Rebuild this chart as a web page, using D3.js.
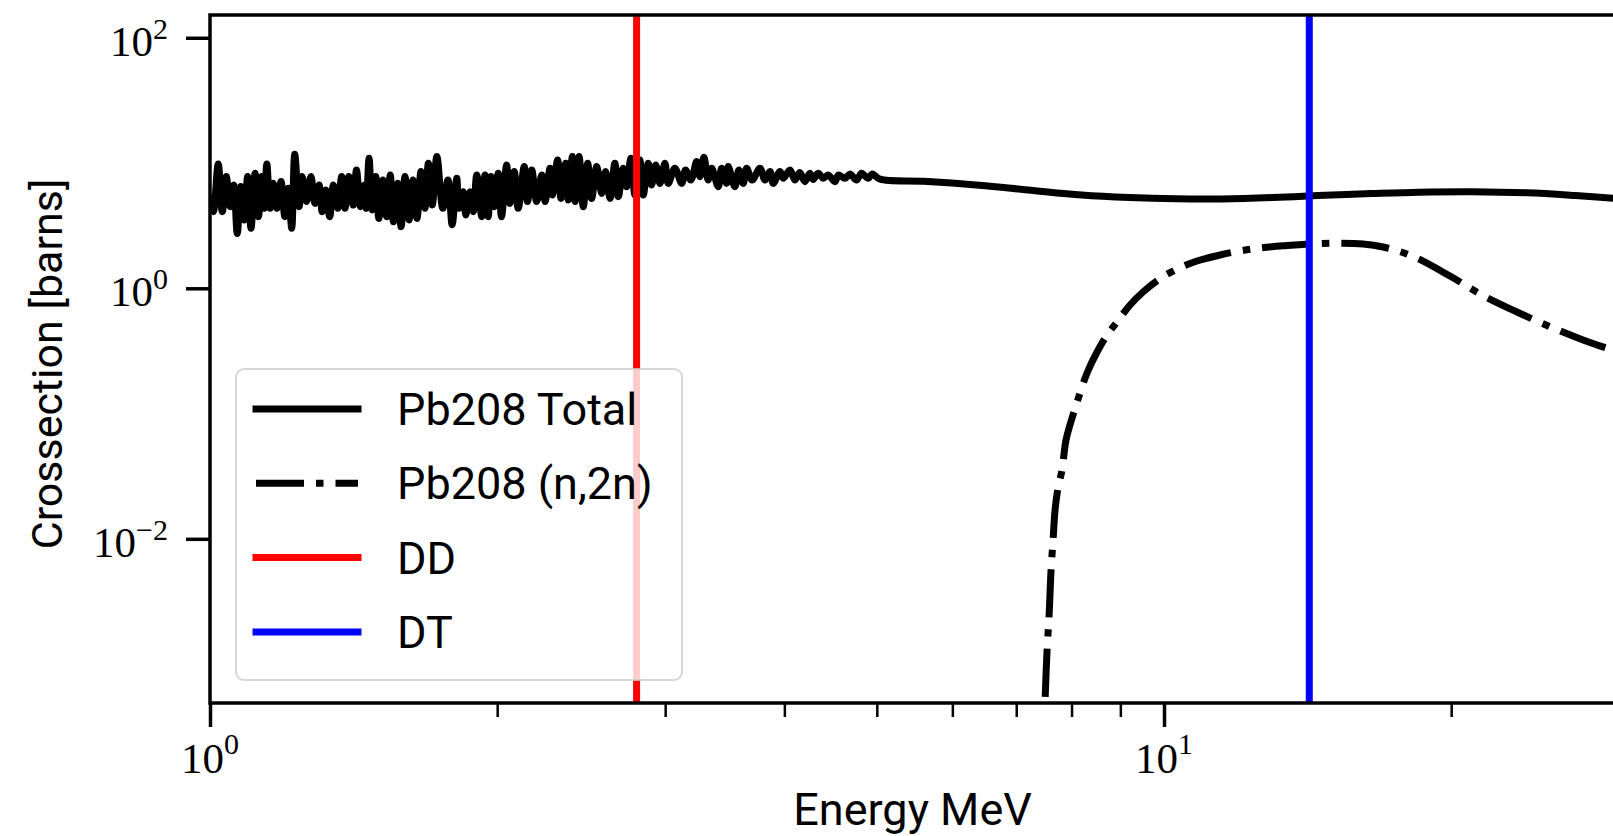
<!DOCTYPE html>
<html><head><meta charset="utf-8">
<script src="https://cdn.jsdelivr.net/npm/d3@7"></script>
<style>html,body{margin:0;padding:0;background:#fff;overflow:hidden}</style>
</head><body>
<svg id="chart" width="1613" height="836"></svg>
<script>
// ---------------- data ----------------
const totalEnergy = [
 1.000,1.008,1.020,1.030,1.040,1.050,1.059,1.068,1.077,1.086,
 1.095,1.104,1.115,1.124,1.133,1.140,1.147,1.156,1.165,1.175,
 1.187,1.198,1.208,1.218,1.227,1.240,1.249,1.262,1.276,1.288,
 1.301,1.311,1.322,1.335,1.347,1.361,1.374,1.385,1.398,1.413,
 1.424,1.438,1.451,1.458,1.468,1.479,1.492,1.503,1.518,1.532,
 1.545,1.557,1.573,1.586,1.601,1.617,1.632,1.648,1.664,1.680,
 1.694,1.710,1.729,1.754,1.776,1.794,1.814,1.824,1.843,1.854,
 1.873,1.888,1.904,1.927,1.942,1.957,1.970,1.986,2.005,2.021,
 2.046,2.062,2.084,2.104,2.135,2.152,2.174,2.200,2.227,2.245,
 2.272,2.285,2.314,2.333,2.360,2.375,2.398,2.414,2.437,2.462,
 2.488,2.512,2.543,2.574,2.598,2.626,2.657,2.679,2.711,2.733,
 2.762,2.789,2.822,2.845,2.880,2.903,2.932,2.963,2.998,3.022,
 3.071,3.122,3.151,3.192,3.237,3.262,3.294,3.328,3.356,3.410,
 3.438,3.479,3.493,3.550,3.584,3.622,3.652,3.701,3.771,3.817,
 3.864,3.894,3.958,3.990,4.054,4.103,4.152,4.203,4.254,4.288,
 4.340,4.393,4.446,4.519,4.556,4.630,4.686,4.762,4.819,4.897,4.945,
 5.04,5.6,6.4,7.2,8.2,9.2,10.3,11.5,13.0,14.5,16.5,18.5,21.0,24.0,27.0,30.0
];
const totalXS = [
 5.23,4.09,9.83,4.09,7.80,4.48,6.68,2.74,6.49,3.51,
 7.80,3.01,8.30,3.73,7.80,4.35,9.83,4.35,6.89,4.35,
 7.11,3.73,6.29,3.01,11.75,4.48,7.80,4.92,7.80,4.76,
 6.68,4.09,6.09,3.73,6.68,4.35,7.80,4.35,7.80,4.62,
 8.80,4.48,6.68,4.35,10.91,4.22,7.80,3.61,7.32,3.73,
 8.03,3.40,6.89,3.10,7.80,3.51,7.32,3.61,8.55,4.35,
 9.95,4.62,11.26,4.35,7.32,3.22,7.55,4.35,5.91,3.85,
 5.91,4.09,8.03,3.73,8.03,3.73,7.80,4.48,8.30,3.73,
 9.65,4.76,8.55,4.35,9.37,4.92,8.80,4.92,8.03,4.92,
 9.08,5.56,10.58,5.22,9.95,5.07,11.26,4.92,11.26,4.48,
 9.95,5.22,9.37,5.72,8.55,5.22,9.95,5.39,9.08,6.48,
 10.91,5.56,10.58,5.56,9.95,6.68,9.65,6.88,9.95,6.88,
 9.08,6.88,8.80,7.32,10.27,7.79,11.11,7.32,9.08,6.48,
 9.08,6.88,9.37,6.48,8.80,6.88,9.08,7.32,9.08,7.32,
 8.55,6.88,8.55,7.55,8.80,7.32,8.39,7.10,8.30,7.40,
 8.30,7.55,8.03,7.10,8.03,7.55,8.18,7.32,8.30,7.55,8.18,
 7.43,7.15,6.65,6.1,5.55,5.3,5.18,5.17,5.3,5.5,5.7,5.85,5.9,5.78,5.5,5.2
];
const n2nEnergy = [7.494,7.505,7.541,7.578,7.614,7.651,7.688,7.743,7.818,7.894,
 8.028,8.165,8.305,8.508,8.716,8.928,9.213,9.506,9.856,10.27,
 10.83,11.45,12.37,13.46,14.22,15.04,16.17,16.97,18.20,19.94,
 21.54,23.44,25.57,27.50,29.55,30.0];
const n2nXS = [3.57e-4,5.16e-4,1.29e-3,2.46e-3,5.64e-3,9.78e-3,0.0170,0.0255,0.0354,0.0615,
 0.0974,0.1459,0.2108,0.310,0.424,0.538,0.736,0.934,1.165,1.400,
 1.652,1.845,2.060,2.196,2.258,2.288,2.258,2.137,1.811,1.254,
 0.884,0.647,0.482,0.387,0.322,0.315];
const sourceNames = ["DD", "DT"];
const sourceEnergy = [2.8, 14.2];
const legendLabels = ["Pb208 Total", "Pb208 (n,2n)", "DD", "DT"];
const xDomain = [1, 30];
const yDomain = [4.89e-4, 152];
const xMajorTicks = [1, 10];
const xMajorExp = ["0", "1"];
const xMinorTicks = [2, 3, 4, 5, 6, 7, 8, 9, 20, 30];
const yMajorTicks = [1e2, 1e0, 1e-2];
const yMajorExp = ["2", "0", "\u22122"];
const xLabel = "Energy MeV";
const yLabel = "Crossection [barns]";

// ---------------- layout ----------------
const L = 210, T = 15, B = 703, DEC = 954;
const R = L + DEC * Math.log10(xDomain[1]);
const svg = d3.select("#chart");
const x = d3.scaleLog().domain(xDomain).range([L, R]);
const y = d3.scaleLog().domain(yDomain).range([B, T]);
const LW = 7;
const serif = "'Liberation Serif', 'DejaVu Serif', serif";
const sans = "Roboto, 'Open Sans', sans-serif";

svg.append("defs").append("clipPath").attr("id", "plotclip")
  .append("rect").attr("x", L).attr("y", T).attr("width", R - L).attr("height", B - T);

const plot = svg.append("g").attr("clip-path", "url(#plotclip)");
const line = d3.line().x(d => x(d[0])).y(d => y(d[1])).curve(d3.curveCatmullRom.alpha(0.5));

plot.append("path").datum(d3.zip(totalEnergy, totalXS))
  .attr("d", line).attr("fill", "none").attr("stroke", "#000")
  .attr("stroke-width", LW).attr("stroke-linejoin", "round").attr("stroke-linecap", "square");

plot.append("path").datum(d3.zip(n2nEnergy, n2nXS))
  .attr("d", line).attr("fill", "none").attr("stroke", "#000")
  .attr("stroke-width", LW).attr("stroke-dasharray", "48,12,7.5,12")
  .attr("stroke-dashoffset", 56).attr("stroke-linecap", "butt");

const srcColors = ["#ff0000", "#0000ff"];
sourceEnergy.forEach((e, i) => {
  plot.append("line").attr("x1", x(e)).attr("x2", x(e)).attr("y1", T - 5).attr("y2", B + 5)
    .attr("stroke", srcColors[i]).attr("stroke-width", LW);
});

// spines
svg.append("rect").attr("x", L).attr("y", T).attr("width", R - L).attr("height", B - T)
  .attr("fill", "none").attr("stroke", "#000").attr("stroke-width", 3.5);

// axes (ticks)
const gx = svg.append("g").attr("transform", `translate(0,${B})`)
  .call(d3.axisBottom(x).tickValues(xMajorTicks).tickSize(24).tickFormat(() => ""));
const gxm = svg.append("g").attr("transform", `translate(0,${B})`)
  .call(d3.axisBottom(x).tickValues(xMinorTicks).tickSize(14).tickFormat(() => ""));
const gy = svg.append("g").attr("transform", `translate(${L},0)`)
  .call(d3.axisLeft(y).tickValues(yMajorTicks).tickSize(24).tickFormat(() => ""));
[gx, gxm, gy].forEach(g => g.select(".domain").remove());
gx.selectAll(".tick line").attr("stroke", "#000").attr("stroke-width", 3.5);
gy.selectAll(".tick line").attr("stroke", "#000").attr("stroke-width", 3.5);
gxm.selectAll(".tick line").attr("stroke", "#000").attr("stroke-width", 2.5);

// tick labels with superscripts
xMajorTicks.forEach((v, i) => {
  const t = svg.append("text").attr("x", x(v)).attr("y", B + 70)
    .attr("text-anchor", "middle").attr("font-family", serif).attr("font-size", 43).attr("fill", "#000");
  t.append("tspan").text("10");
  t.append("tspan").attr("dy", -19).attr("font-size", 30).text(xMajorExp[i]);
});
yMajorTicks.forEach((v, i) => {
  const t = svg.append("text").attr("x", L - 42).attr("y", y(v) + 18)
    .attr("text-anchor", "end").attr("font-family", serif).attr("font-size", 43).attr("fill", "#000");
  t.append("tspan").text("10");
  t.append("tspan").attr("dy", -17).attr("font-size", 30).text(yMajorExp[i]);
});

// axis labels
svg.append("text").attr("x", (L + R) / 2 - 2).attr("y", 825).attr("text-anchor", "middle")
  .attr("font-family", sans).attr("font-size", 45).attr("fill", "#000").text(xLabel);
svg.append("text").attr("transform", `translate(62,${(T + B) / 2 + 5}) rotate(-90)`)
  .attr("text-anchor", "middle").attr("font-family", sans).attr("font-size", 43)
  .attr("fill", "#000").text(yLabel);

// legend
const lg = svg.append("g");
lg.append("rect").attr("x", 236).attr("y", 369).attr("width", 446).attr("height", 311).attr("rx", 8)
  .attr("fill", "#fff").attr("fill-opacity", 0.8)
  .attr("stroke", "#cccccc").attr("stroke-opacity", 0.8).attr("stroke-width", 2);
const legendStyles = [
  {c: "#000", dash: null}, {c: "#000", dash: "48,12,7.5,12"},
  {c: srcColors[0], dash: null}, {c: srcColors[1], dash: null}
];
legendLabels.forEach((lab, i) => {
  const ry = 409 + i * 74.3;
  const s = legendStyles[i];
  lg.append("line").attr("x1", 256).attr("x2", 358).attr("y1", ry).attr("y2", ry)
    .attr("stroke", s.c).attr("stroke-width", LW)
    .attr("stroke-linecap", s.dash ? "butt" : "square")
    .attr("stroke-dasharray", s.dash);
  lg.append("text").attr("x", 397).attr("y", ry + 16).attr("font-family", sans)
    .attr("font-size", 45).attr("fill", "#000").text(lab);
});
</script>
</body></html>
